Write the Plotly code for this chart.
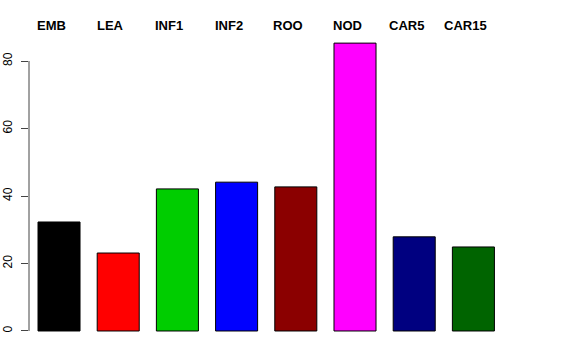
import plotly.graph_objects as go

categories = ["EMB", "LEA", "INF1", "INF2", "ROO", "NOD", "CAR5", "CAR15"]
values = [32.3, 23.1, 42.1, 44.1, 42.7, 85.3, 27.9, 24.9]
colors = ["#000000", "#FF0000", "#00CD00", "#0000FF", "#8B0000", "#FF00FF", "#000080", "#006400"]
yticks = [0, 20, 40, 60, 80]

xs = list(range(len(categories)))

fig = go.Figure()
fig.add_trace(go.Bar(
    x=xs, y=values, width=0.71,
    marker=dict(color=colors, line=dict(color="black", width=1)),
    showlegend=False, hoverinfo="skip",
))

for i, c in enumerate(categories):
    fig.add_annotation(
        x=xs[i], y=1, xref="x", yref="paper", yanchor="bottom",
        text="<b>%s</b>" % c, showarrow=False, xshift=-8, yshift=-15,
        font=dict(family="Liberation Sans, Arial, sans-serif", size=13, color="black"),
    )

fig.add_shape(type="line", xref="paper", yref="y", x0=0, x1=0, y0=yticks[0], y1=yticks[-1],
              line=dict(color="#444444", width=1))

fig.update_layout(
    width=576, height=360,
    margin=dict(l=29, r=73, t=20, b=15, autoexpand=False),
    paper_bgcolor="white", plot_bgcolor="white",
    font=dict(family="Liberation Sans, Arial, sans-serif", size=12, color="black"),
    xaxis=dict(range=[-0.507, 7.5], showticklabels=False, showgrid=False, zeroline=False,
               showline=False, ticks="", automargin=False),
    yaxis=dict(range=[-4.15, 92.15], tickvals=yticks, ticktext=[str(v) for v in yticks],
               showgrid=False, zeroline=False, showline=False, automargin=False,
               ticks="outside", ticklen=7, tickcolor="#444444", tickwidth=1,
               ticklabelstandoff=4,
               tickangle=-90, tickfont=dict(size=12, color="black")),
)

fig.write_html("out.html", config={"displayModeBar": False},
               post_script="document.body.style.margin='0px';document.body.style.padding='0px';")
